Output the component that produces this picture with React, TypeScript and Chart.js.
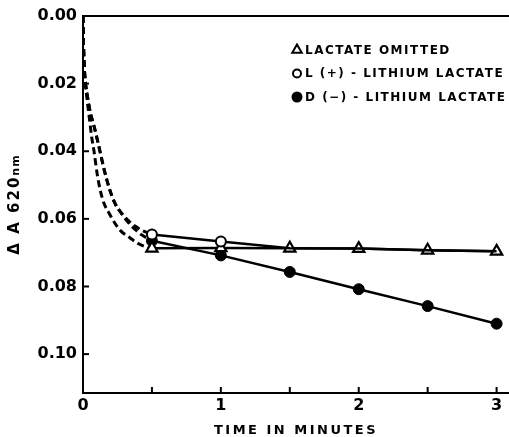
import React, { useEffect, useRef } from 'react';
import { Chart, registerables } from 'chart.js';
import { drawPoint } from 'chart.js/helpers';

Chart.register(...registerables);

// ---- data ----
const timeMinutes = [0.5, 1, 1.5, 2, 2.5, 3];
const lactateOmitted = [0.0687, 0.0686, 0.0687, 0.0688, 0.0693, 0.0696];
const lLithiumLactate = [0.0646, 0.0667, 0.0687, 0.0688, 0.0693, 0.0696];
const dLithiumLactate = [0.0665, 0.0708, 0.0757, 0.0808, 0.0858, 0.091];

// early (dashed) portions
const earlyTimeOmitted = [0, 0.003, 0.007, 0.012, 0.02, 0.032, 0.047, 0.063, 0.08, 0.102, 0.125, 0.152, 0.185, 0.218, 0.27, 0.33, 0.4, 0.463, 0.5];
const earlyOmitted = [0, 0.007, 0.013, 0.017, 0.021, 0.0255, 0.0305, 0.0358, 0.04, 0.0465, 0.0515, 0.0554, 0.058, 0.0604, 0.0634, 0.0653, 0.0673, 0.0684, 0.0687];
const earlyTimeLactate = [0, 0.003, 0.007, 0.012, 0.02, 0.035, 0.055, 0.075, 0.0995, 0.123, 0.16, 0.195, 0.232, 0.28, 0.327, 0.38, 0.428, 0.5];
const earlyL = [0, 0.007, 0.013, 0.017, 0.0205, 0.0245, 0.0289, 0.0318, 0.0358, 0.04, 0.0465, 0.0515, 0.0554, 0.0583, 0.0604, 0.0622, 0.0634, 0.0646];
const earlyD = [0, 0.007, 0.013, 0.017, 0.0205, 0.0245, 0.0289, 0.0318, 0.0358, 0.04, 0.0465, 0.0515, 0.0554, 0.0585, 0.061, 0.0632, 0.0648, 0.0665];

const yTickValues = [0, 0.02, 0.04, 0.06, 0.08, 0.1];
const yTickLabels = ['0.00', '0.02', '0.04', '0.06', '0.08', '0.10'];
const xTickValues = [0, 0.5, 1, 1.5, 2, 2.5, 3];
const xTickLabels = ['0', '', '1', '', '2', '', '3'];

const legendLabels = ['LACTATE OMITTED', 'L (+) - LITHIUM LACTATE', 'D (\u2212) - LITHIUM LACTATE'];
const xTitle = 'TIME IN MINUTES';
const yTitleMain = '\u0394 A 620';
const yTitleUnit = 'nm';

const FONT = '"DejaVu Sans"';

const toXY = (xs: number[], ys: number[]) => xs.map((x, i) => ({ x, y: ys[i] }));

const decorPlugin = {
  id: 'decor',
  afterDraw(chart: any) {
    const { ctx, chartArea } = chart;
    const xs = chart.scales.x;
    const ys = chart.scales.y;
    ctx.save();
    ctx.strokeStyle = '#000';
    ctx.lineWidth = 2;
    // top border
    ctx.beginPath();
    ctx.moveTo(chartArea.left, chartArea.top);
    ctx.lineTo(chartArea.right, chartArea.top);
    ctx.stroke();
    // inward ticks
    ys.ticks.forEach((t: any) => {
      const py = ys.getPixelForValue(t.value);
      ctx.beginPath();
      ctx.moveTo(chartArea.left, py);
      ctx.lineTo(chartArea.left + 6, py);
      ctx.stroke();
    });
    xs.ticks.forEach((t: any) => {
      const px = xs.getPixelForValue(t.value);
      ctx.beginPath();
      ctx.moveTo(px, chartArea.bottom);
      ctx.lineTo(px, chartArea.bottom - 6);
      ctx.stroke();
    });

    // x title
    ctx.fillStyle = '#000';
    ctx.font = `bold 13px ${FONT}`;
    (ctx as any).letterSpacing = '2.5px';
    ctx.textAlign = 'center';
    ctx.textBaseline = 'middle';
    ctx.fillText(xTitle, (chartArea.left + chartArea.right) / 2, 431);

    // y title (rotated, unit smaller)
    ctx.save();
    ctx.translate(15, (chartArea.top + chartArea.bottom) / 2);
    ctx.rotate(-Math.PI / 2);
    ctx.textAlign = 'left';
    (ctx as any).letterSpacing = '2px';
    ctx.font = `bold 15px ${FONT}`;
    const w1 = ctx.measureText(yTitleMain).width;
    ctx.font = `bold 11px ${FONT}`;
    (ctx as any).letterSpacing = '1px';
    const w2 = ctx.measureText(yTitleUnit).width;
    const start = -(w1 + w2) / 2;
    ctx.font = `bold 15px ${FONT}`;
    (ctx as any).letterSpacing = '2px';
    ctx.fillText(yTitleMain, start, 0);
    ctx.font = `bold 11px ${FONT}`;
    (ctx as any).letterSpacing = '1px';
    ctx.fillText(yTitleUnit, start + w1, 1);
    ctx.restore();

    // legend inside plot
    ctx.font = `bold 12px ${FONT}`;
    (ctx as any).letterSpacing = '1.5px';
    ctx.textAlign = 'left';
    ctx.textBaseline = 'middle';
    legendLabels.forEach((label, i) => {
      const ds = chart.data.datasets.find((d: any) => d.label === label);
      if (!ds) return;
      const y = 50 + i * 23.5;
      ctx.fillStyle = ds.pointBackgroundColor;
      ctx.strokeStyle = '#000';
      ctx.lineWidth = 2;
      drawPoint(ctx, { pointStyle: ds.pointStyle, radius: ds.legendRadius, borderWidth: 2, rotation: 0 } as any, 297, y);
      ctx.fillStyle = '#000';
      ctx.fillText(label, 305, y + 0.5);
    });
    ctx.restore();
  },
};

const dashed = (data: { x: number; y: number }[]) => ({
  data,
  borderColor: '#000',
  borderWidth: 3,
  borderDash: [7, 4],
  borderCapStyle: 'butt',
  pointRadius: 0,
  cubicInterpolationMode: 'monotone',
});

export default function App() {
  const ref = useRef<HTMLCanvasElement | null>(null);
  useEffect(() => {
    if (!ref.current) return;
    const chart = new Chart(ref.current, {
      type: 'line',
      data: {
        datasets: [
          {
            label: legendLabels[1],
            data: toXY(timeMinutes, lLithiumLactate),
            borderColor: '#000',
            borderWidth: 2.5,
            pointStyle: 'circle',
            pointRadius: [5, 5, 0, 0, 0, 0],
            pointBackgroundColor: '#fff',
            pointBorderColor: '#000',
            pointBorderWidth: 2,
            legendRadius: 4,
          } as any,
          {
            label: legendLabels[0],
            data: toXY(timeMinutes, lactateOmitted),
            borderColor: '#000',
            borderWidth: 2.5,
            pointStyle: 'triangle',
            pointRadius: 6.5,
            pointBackgroundColor: '#fff',
            pointBorderColor: '#000',
            pointBorderWidth: 2.2,
            legendRadius: 5.5,
          } as any,
          {
            label: legendLabels[2],
            data: toXY(timeMinutes, dLithiumLactate),
            borderColor: '#000',
            borderWidth: 2.5,
            pointStyle: 'circle',
            pointRadius: 5.5,
            pointBackgroundColor: '#000',
            pointBorderColor: '#000',
            pointBorderWidth: 1,
            legendRadius: 4.5,
          } as any,
          dashed(toXY(earlyTimeOmitted, earlyOmitted)) as any,
          dashed(toXY(earlyTimeLactate, earlyL)) as any,
          dashed(toXY(earlyTimeLactate, earlyD)) as any,
        ],
      },
      options: {
        responsive: false,
        animation: false,
        events: [],
        layout: { autoPadding: false, padding: { top: 16, right: 0, left: 0, bottom: 0 } },
        plugins: { legend: { display: false }, tooltip: { enabled: false }, title: { display: false } },
        scales: {
          x: {
            type: 'linear',
            min: 0,
            max: 3.09,
            afterFit: (s: any) => { s.height = 44; s.paddingLeft = 0; s.paddingRight = 0; },
            afterBuildTicks: (s: any) => { s.ticks = xTickValues.map((v) => ({ value: v })); },
            ticks: {
              autoSkip: false,
              maxRotation: 0,
              padding: 3,
              color: '#000',
              font: { family: FONT, size: 16, weight: 'bold' },
              callback: (_v: any, i: number) => xTickLabels[i],
            },
            grid: { display: true, drawOnChartArea: false, drawTicks: false },
            border: { display: true, width: 2, color: '#000' },
          },
          y: {
            type: 'linear',
            reverse: true,
            min: 0,
            max: 0.1115,
            afterFit: (s: any) => { s.width = 83; s.paddingTop = 0; s.paddingBottom = 0; },
            afterBuildTicks: (s: any) => { s.ticks = yTickValues.map((v) => ({ value: v })); },
            ticks: {
              autoSkip: false,
              padding: 6,
              color: '#000',
              font: { family: FONT, size: 16, weight: 'bold' },
              callback: (_v: any, i: number) => yTickLabels[i],
            },
            grid: { display: true, drawOnChartArea: false, drawTicks: false },
            border: { display: true, width: 2, color: '#000' },
          },
        },
      } as any,
      plugins: [decorPlugin],
    });
    return () => chart.destroy();
  }, []);
  return (
    <div style={{ position: 'fixed', left: 0, top: 0, width: 509, height: 437, background: '#fff' }}>
      <canvas ref={ref} width={509} height={437} style={{ display: 'block' }} />
    </div>
  );
}
